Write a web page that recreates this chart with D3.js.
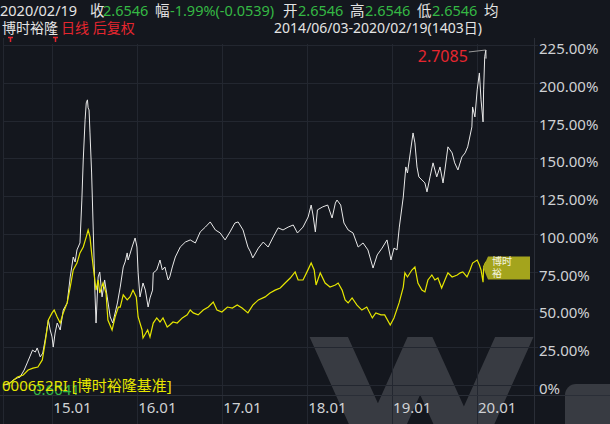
<html>
<head>
<style>
  body { margin: 0; background: #14171e; font-family: "Noto Sans", "Noto Sans CJK SC", sans-serif; }
</style>
</head>
<body>
<div id="chart"></div>
<script src="https://d3js.org/d3.v7.min.js"></script>
<script>
// fund (博时裕隆) cumulative return, %
var fundDates = ["2014-06-03","2014-06-26","2014-07-17","2014-08-04","2014-08-15","2014-09-02","2014-09-15","2014-09-26","2014-10-08","2014-10-20","2014-10-28","2014-11-10","2014-11-21","2014-12-05","2014-12-15","2014-12-23","2014-12-31",
  "2015-01-05","2015-01-13","2015-01-22","2015-02-04","2015-02-17","2015-03-06","2015-03-19","2015-04-01","2015-04-09","2015-04-17","2015-04-30","2015-05-08","2015-05-14","2015-05-22","2015-05-27","2015-06-01","2015-06-04","2015-06-08","2015-06-12","2015-06-19","2015-06-26","2015-06-30","2015-07-03","2015-07-08","2015-07-17","2015-07-24","2015-08-03","2015-08-14","2015-08-25","2015-09-07","2015-09-18","2015-10-08","2015-10-20","2015-11-02","2015-11-10","2015-11-19","2015-11-23","2015-12-10","2015-12-23","2015-12-31",
  "2016-01-05","2016-01-13","2016-01-26","2016-02-05","2016-02-17","2016-02-25","2016-03-07","2016-03-10","2016-03-25","2016-04-08","2016-04-18","2016-04-29","2016-05-13","2016-05-20","2016-05-31","2016-06-13","2016-07-04","2016-07-26","2016-08-16","2016-09-07","2016-09-28","2016-10-20","2016-11-10","2016-12-02","2016-12-23",
  "2017-01-13","2017-02-03","2017-02-24","2017-03-10","2017-03-31","2017-04-21","2017-05-02","2017-05-12","2017-06-05","2017-06-26","2017-07-17","2017-08-08","2017-08-29","2017-09-19","2017-10-11","2017-11-02","2017-11-20","2017-12-14",
  "2018-01-05","2018-01-18","2018-01-26","2018-02-05","2018-02-14","2018-03-09","2018-03-30","2018-04-18","2018-05-02","2018-05-09","2018-05-25","2018-06-08","2018-06-26","2018-07-17","2018-08-08","2018-08-29","2018-09-19","2018-10-11","2018-10-29","2018-11-19","2018-12-10","2018-12-27",
  "2019-01-09","2019-01-22","2019-02-01","2019-02-18","2019-03-01","2019-03-08","2019-03-22","2019-04-01","2019-04-09","2019-04-18","2019-04-26","2019-05-09","2019-05-22","2019-05-31","2019-06-13","2019-06-26","2019-07-12","2019-07-26","2019-08-08","2019-08-16","2019-08-29","2019-09-16","2019-09-27","2019-10-11","2019-10-28","2019-11-11","2019-11-22","2019-12-10","2019-12-13","2019-12-23",
  "2020-01-02","2020-01-14","2020-01-23","2020-02-03","2020-02-06","2020-02-12","2020-02-18","2020-02-19"];
var fundValues = [0,0.5,3.3,4.7,5.2,9.9,14.6,18.6,23.1,21.8,24.5,18.6,21.1,33.1,43.0,36.4,31.8,
  25.1,34.4,41.0,36.4,49.6,54.3,71.5,84.7,81.4,89.4,94.0,122.4,148.9,175.5,186.7,188.7,183.4,182.0,166.8,140.3,102.6,80.7,62.8,41.0,71.5,74.8,58.3,69.5,58.3,45.0,41.0,54.3,64.8,78.1,81.4,87.4,82.7,91.3,97.3,91.3,
  74.2,58.3,67.5,62.8,51.6,57.6,62.8,74.2,76.1,82.7,76.1,78.1,69.5,71.5,78.1,84.7,91.3,94.6,96.0,94.0,101.3,104.5,107.9,102.6,100.6,
  96.0,101.3,107.2,107.9,102.6,91.3,88.1,84.1,90.6,94.6,91.3,98.0,104.0,102.6,104.5,105.9,100.6,104.5,
  111.2,119.1,112.5,101.3,115.9,117.9,119.1,110.5,120.4,122.4,119.1,107.2,102.6,100.6,91.3,94.0,89.4,77.4,86.1,90.6,96.0,82.7,
  90.6,89.4,104.5,124.4,144.3,140.3,155.6,166.8,160.2,144.3,137.7,135.7,133.7,127.8,137.7,147.0,137.7,144.3,133.7,142.3,157.6,153.6,147.0,142.3,150.9,153.6,157.6,170.8,184.0,177.4,
  195.3,206.5,188.7,174.1,195.3,217.2,221.7,216.0];

// benchmark (000652RI 博时裕隆基准) cumulative return, %
var benchDates = ["2014-06-03","2014-07-04","2014-08-04","2014-08-29","2014-09-19","2014-10-10","2014-10-31","2014-11-19","2014-12-01","2014-12-15","2014-12-31",
  "2015-01-09","2015-01-22","2015-02-04","2015-02-17","2015-03-06","2015-03-19","2015-04-01","2015-04-17","2015-04-30","2015-05-14","2015-05-27","2015-06-04","2015-06-12","2015-06-19","2015-06-26","2015-07-08","2015-07-17","2015-07-24","2015-08-07","2015-08-20","2015-08-28","2015-09-15","2015-09-28","2015-10-12","2015-10-20","2015-11-02","2015-11-19","2015-12-01","2015-12-14","2015-12-28",
  "2016-01-05","2016-01-22","2016-01-26","2016-02-15","2016-02-25","2016-03-10","2016-03-25","2016-04-08","2016-04-21","2016-05-09","2016-05-20","2016-06-03","2016-06-21","2016-07-13","2016-08-03","2016-08-16","2016-08-29","2016-09-19","2016-10-11","2016-11-02","2016-11-23","2016-12-09","2016-12-30",
  "2017-01-23","2017-02-13","2017-03-06","2017-03-27","2017-04-21","2017-05-12","2017-06-05","2017-07-04","2017-07-25","2017-08-16","2017-09-07","2017-09-28","2017-10-20","2017-11-10","2017-11-23","2017-12-14","2017-12-29",
  "2018-01-18","2018-01-31","2018-02-08","2018-02-26","2018-03-19","2018-04-09","2018-05-02","2018-05-14","2018-05-31","2018-06-13","2018-06-26","2018-07-13","2018-08-03","2018-08-24","2018-09-14","2018-10-08","2018-10-23","2018-11-14","2018-11-30","2018-12-24",
  "2019-01-09","2019-01-31","2019-02-18","2019-02-25","2019-03-08","2019-03-27","2019-04-09","2019-04-22","2019-05-09","2019-05-22","2019-06-04","2019-06-21","2019-07-04","2019-07-17","2019-08-02","2019-08-16","2019-08-29","2019-09-16","2019-10-08","2019-10-21","2019-11-01","2019-11-19","2019-12-02","2019-12-13",
  "2020-01-02","2020-01-14","2020-01-23","2020-02-03","2020-02-06","2020-02-18","2020-02-19"];
var benchValues = [0,1.3,5.2,6.6,9.9,11.2,11.9,16.6,27.8,43.0,47.7,
  49.6,45.0,41.0,47.7,54.3,64.8,76.1,80.7,87.4,91.3,98.0,102.6,98.0,87.4,78.1,62.8,69.5,60.9,67.5,60.9,43.0,36.4,45.0,51.6,51.6,59.6,56.3,58.3,62.8,58.3,
  45.0,36.4,31.1,36.4,31.8,41.0,44.4,41.7,44.4,38.4,39.7,41.7,41.0,44.4,46.4,49.6,47.7,46.4,49.6,51.6,54.9,49.6,48.3,
  51.6,50.9,52.9,50.9,47.7,52.9,56.3,58.3,60.9,62.8,64.2,67.5,70.8,74.8,69.5,69.5,74.2,
  80.7,76.1,66.2,74.2,67.5,64.8,66.2,67.5,62.8,56.3,54.3,57.6,52.9,49.6,51.6,44.4,47.7,46.4,46.4,39.7,
  44.4,54.3,64.8,74.2,71.5,76.1,78.1,67.5,62.8,61.6,69.5,72.8,69.5,70.8,64.2,69.5,74.2,71.5,72.8,74.2,74.8,71.5,76.1,80.7,
  82.7,79.4,76.1,68.0,78.1,81.4,79.0];

var yTicks = [0, 25, 50, 75, 100, 125, 150, 175, 200, 225];
var xTicks = ["2015-01-01", "2016-01-01", "2017-01-01", "2018-01-01", "2019-01-01", "2020-01-01"];
var xTickLabels = ["15.01", "16.01", "17.01", "18.01", "19.01", "20.01"];

var peakNav = "2.7085";
var headerItems = [
  ["2020/02/19", "w", 0], ["收", "w", 90], ["2.6546", "g", 103], ["幅", "w", 155],
  ["-1.99%(-0.0539)", "g", 170], ["开", "w", 283], ["2.6546", "g", 298], ["高", "w", 350],
  ["2.6546", "g", 365], ["低", "w", 417], ["2.6546", "g", 432], ["均", "w", 484]
];
var fundName = "博时裕隆";
var chartMode = "日线 后复权";
var rangeText = "2014/06/03-2020/02/19(1403日)";
var benchLegend = "000652RI [博时裕隆基准]";
var benchLast = "0.6041";

var width = 610, height = 424;
var bg = "#14171e", grid = "#232730", labelColor = "#cfd1d4";
var green = "#35b844", red = "#e5262f", yellow = "#e6e600";

var parse = d3.timeParse("%Y-%m-%d");

var svg = d3.select("#chart").append("svg")
  .attr("width", width).attr("height", height);

svg.append("rect").attr("width", width).attr("height", height).attr("fill", bg);

// watermark (big grey "W" + piece of the next letter)
svg.append("clipPath").attr("id", "wmclip")
  .append("rect").attr("x", 0).attr("y", 337).attr("width", width).attr("height", 100);
svg.append("path")
  .attr("d", "M322,322L378,446L420,352L464,449L521,322")
  .attr("fill", "none").attr("stroke", "#383b42").attr("stroke-width", 35)
  .attr("stroke-linejoin", "miter").attr("stroke-miterlimit", 10)
  .attr("clip-path", "url(#wmclip)");
svg.append("rect").attr("x", 565).attr("y", 384).attr("width", 70).attr("height", 80).attr("rx", 11)
  .attr("fill", "#383b42");

// scales: calendar, with last bit (CNY gap) compressed
var x = d3.scaleTime()
  .domain([parse("2014-06-03"), parse("2020-01-01"), parse("2020-02-19")])
  .range([3, 477, 486]);
var y = d3.scaleLinear().domain([0, 225]).range([385, 45]);

// grid
var g = svg.append("g");
g.selectAll(".vgrid").data(xTicks).enter().append("line")
  .attr("x1", function(d) { return Math.round(x(parse(d))) + 0.5; })
  .attr("x2", function(d) { return Math.round(x(parse(d))) + 0.5; })
  .attr("y1", 44).attr("y2", height)
  .attr("stroke", grid);
g.selectAll(".hgrid").data(yTicks).enter().append("line")
  .attr("x1", 3).attr("x2", 538)
  .attr("y1", function(d) { return Math.round(y(d)) + 0.5; })
  .attr("y2", function(d) { return Math.round(y(d)) + 0.5; })
  .attr("stroke", grid);
g.append("line").attr("x1", 3.5).attr("x2", 3.5).attr("y1", 38).attr("y2", height).attr("stroke", grid);
g.append("line").attr("x1", 534.5).attr("x2", 534.5).attr("y1", 38).attr("y2", height).attr("stroke", "#2a2e37");
g.append("line").attr("x1", 0).attr("x2", width).attr("y1", 395.5).attr("y2", 395.5).attr("stroke", "#2a2e37");

// axis labels
svg.selectAll(".ylab").data(yTicks).enter().append("text")
  .attr("x", 539).attr("y", function(d) { return y(d) + 5; })
  .attr("dominant-baseline", "middle")
  .attr("fill", labelColor).style("font-size", "15px")
  .text(function(d) { return d === 0 ? "0%" : d3.format(".2f")(d) + "%"; });

svg.selectAll(".xlab").data(xTicks).enter().append("text")
  .attr("x", function(d) { return x(parse(d)) + 1; })
  .attr("y", 409)
  .attr("dominant-baseline", "middle")
  .attr("fill", labelColor).style("font-size", "15px")
  .text(function(d, i) { return xTickLabels[i]; });

// lines
var line = d3.line()
  .x(function(d) { return x(d[0]); })
  .y(function(d) { return y(d[1]); });

var fund = fundDates.map(function(d, i) { return [parse(d), fundValues[i]]; });
var bench = benchDates.map(function(d, i) { return [parse(d), benchValues[i]]; });

svg.append("path").datum(fund).attr("d", line)
  .attr("fill", "none").attr("stroke", "#e8e8e8").attr("stroke-width", 1);
svg.append("path").datum(bench).attr("d", line)
  .attr("fill", "none").attr("stroke", yellow).attr("stroke-width", 1.2);

// peak label
var peakIdx = d3.maxIndex(fund, function(d) { return d[1]; });
var px = x(fund[peakIdx][0]), py = y(fund[peakIdx][1]);
svg.append("line").attr("x1", px - 17).attr("y1", py + 2).attr("x2", px).attr("y2", py)
  .attr("stroke", "#9a9a9a");
svg.append("text").attr("x", px - 18).attr("y", py + 8)
  .attr("text-anchor", "end").attr("dominant-baseline", "middle")
  .attr("fill", red).style("font-size", "16px").text(peakNav);

// benchmark tag at the right
var last = bench[bench.length - 1];
var ty = y(last[1]) + 2;
svg.append("path")
  .attr("d", "M" + 483 + "," + ty + "L488," + (ty - 11) + "L530," + (ty - 11) + "L530," + (ty + 12) + "L488," + (ty + 12) + "Z")
  .attr("fill", "#a4a41c");
svg.append("text").attr("x", 492).attr("y", ty - 5).attr("dominant-baseline", "middle")
  .attr("fill", "#f4f4e0").style("font-size", "10px").text(fundName.slice(0, 2));
svg.append("text").attr("x", 492).attr("y", ty + 7).attr("dominant-baseline", "middle")
  .attr("fill", "#f4f4e0").style("font-size", "10px").text(fundName.slice(2, 3));

// header
svg.selectAll(".hdr").data(headerItems).enter().append("text")
  .attr("x", function(d) { return d[2]; }).attr("y", 12)
  .attr("dominant-baseline", "middle")
  .attr("fill", function(d) { return d[1] === "g" ? green : "#e4e4e4"; })
  .style("font-size", "14.5px")
  .text(function(d) { return d[0]; });

svg.append("text").attr("x", 2).attr("y", 29.5).attr("dominant-baseline", "middle")
  .attr("fill", "#e4e4e4").style("font-size", "14px").text(fundName);
svg.append("text").attr("x", 61).attr("y", 29.5).attr("dominant-baseline", "middle")
  .attr("fill", red).style("font-size", "14px").text(chartMode);
svg.append("text").attr("x", 482).attr("y", 29.5).attr("dominant-baseline", "middle")
  .attr("text-anchor", "end")
  .attr("fill", "#e4e4e4").style("font-size", "14px").text(rangeText);

// small red markers
[10, 55].forEach(function(mx) {
  svg.append("path").attr("d", "M" + (mx - 2) + ",37.5h5M" + (mx + 0.5) + ",37v5")
    .attr("stroke", red).attr("stroke-width", 1.5).attr("fill", "none");
});

// legend bottom-left (green value sits under the yellow name, as in the terminal)
svg.append("text").attr("x", 33).attr("y", 391).attr("dominant-baseline", "middle")
  .attr("fill", green).style("font-size", "15px").text(benchLast);
svg.append("text").attr("x", 2).attr("y", 387).attr("dominant-baseline", "middle")
  .attr("fill", yellow).style("font-size", "15px").text(benchLegend);
</script>
</body>
</html>
